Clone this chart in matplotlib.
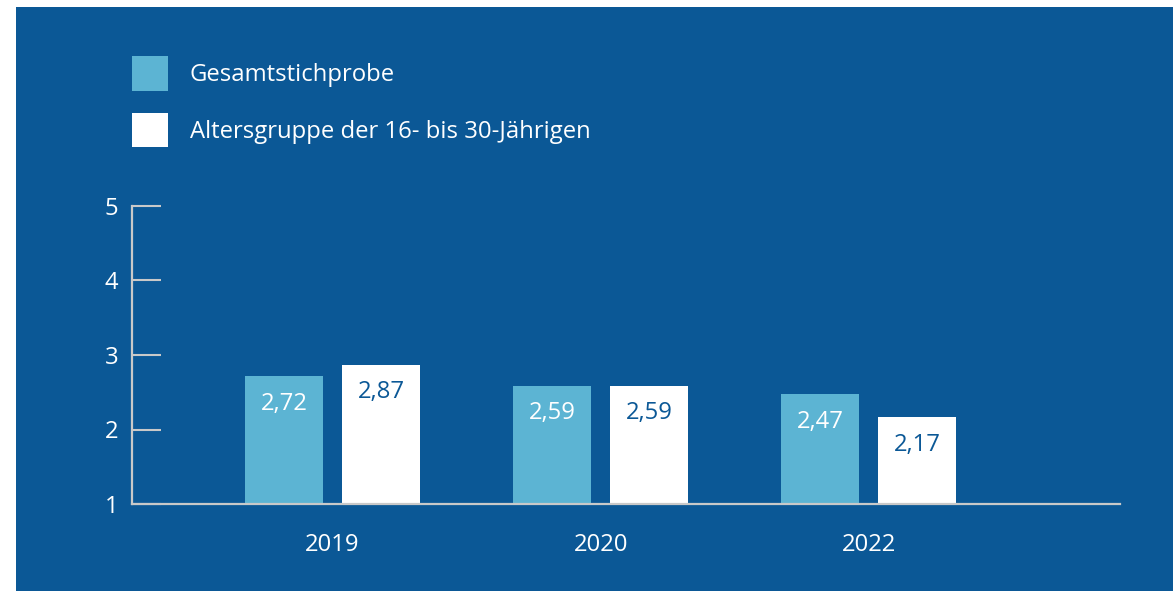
import matplotlib
matplotlib.use("Agg")
import matplotlib.pyplot as plt
from matplotlib.patches import Rectangle, Patch
import numpy as np

years = ["2019", "2020", "2022"]
gesamt = [2.72, 2.59, 2.47]
jung = [2.87, 2.59, 2.17]
series_names = ["Gesamtstichprobe", "Altersgruppe der 16- bis 30-Jährigen"]
yticks = [1, 2, 3, 4, 5]

BG = "#0B5896"
LIGHT = "#5CB4D3"
AXC = "#C9C9C9"
FS = 17.2

plt.rcParams['font.family'] = ['Open Sans', 'DejaVu Sans']

W, H = 1174, 592
fig = plt.figure(figsize=(W/100, H/100), dpi=100, facecolor="white")
fig.patches.append(Rectangle((16/W, 1/H), (1173-16)/W, (591-7)/H,
                             transform=fig.transFigure, facecolor=BG,
                             edgecolor="none", zorder=-10))

ax = fig.add_axes([132/W, (H-504)/H, (1120-132)/W, (504-206)/H])
ax.set_facecolor("none")
ax.set_zorder(5)

x = np.arange(len(years))
bw = 0.291
off = 0.181
b1 = ax.bar(x - off, np.array(gesamt) - 1, bw, bottom=1, color=LIGHT, zorder=2)
b2 = ax.bar(x + off, np.array(jung) - 1, bw, bottom=1, color="white", zorder=2)

for xi, v in zip(x - off, gesamt):
    ax.annotate(f"{v:.2f}".replace(".", ","), (xi, v), xytext=(0, -20),
                textcoords="offset points", ha="center", va="center",
                color="white", fontsize=FS, zorder=3)
for xi, v in zip(x + off, jung):
    ax.annotate(f"{v:.2f}".replace(".", ","), (xi, v), xytext=(0, -20),
                textcoords="offset points", ha="center", va="center",
                color=BG, fontsize=FS, zorder=3)

ax.set_xlim(-0.748, 2.937)
ax.set_ylim(1, 5)
ax.set_yticks(yticks)
ax.set_yticklabels([str(t) for t in yticks])
ax.set_xticks(x)
ax.set_xticklabels(years)

for s in ["top", "right"]:
    ax.spines[s].set_visible(False)
for s in ["left", "bottom"]:
    ax.spines[s].set_color(AXC)
    ax.spines[s].set_linewidth(1.6)
    ax.spines[s].set_zorder(3)

ax.tick_params(axis="y", direction="in", length=21, width=1.5, color=AXC,
               labelcolor="white", labelsize=FS, pad=10)
ax.tick_params(axis="x", length=0, labelcolor="white", labelsize=FS, pad=21)

handles = [Patch(facecolor=LIGHT, edgecolor="none"),
           Patch(facecolor="white", edgecolor="none")]
fig.legend(handles, series_names, loc="upper left",
           bbox_to_anchor=(132/W, 1 - 56/H), frameon=False, borderpad=0,
           borderaxespad=0, handlelength=1.50, handleheight=1.86,
           handletextpad=0.92, labelspacing=0.92, fontsize=FS,
           labelcolor="white")

fig.savefig("out.png", dpi=100, facecolor="white")
